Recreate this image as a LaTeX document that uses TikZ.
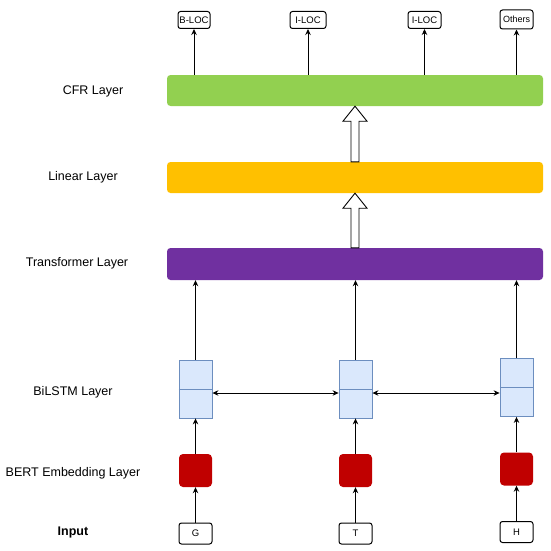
\documentclass[tikz,border=0pt]{standalone}
\usepackage{fontspec}
\setmainfont{Liberation Sans}
\usetikzlibrary{arrows.meta,calc}
\definecolor{cfrgreen}{HTML}{92D050}
\definecolor{linyellow}{HTML}{FFC000}
\definecolor{trpurple}{HTML}{7030A0}
\definecolor{bertred}{HTML}{C00000}
\definecolor{lstmfill}{HTML}{DAE8FC}
\definecolor{lstmdraw}{HTML}{6C8EBF}
\begin{document}
\begin{tikzpicture}[x=1pt,y=-1pt,
  bar/.style={rectangle,rounded corners=3.5pt,minimum width=376pt,inner sep=0pt},
  tag/.style={draw,rectangle,rounded corners=2.5pt,line width=1pt,inner sep=0pt,font=\fontsize{9.5}{11}\selectfont},
  lstm/.style={draw=lstmdraw,fill=lstmfill,rectangle,minimum width=33pt,minimum height=58pt,inner sep=0pt,line width=0.8pt},
  bert/.style={fill=bertred,rectangle,rounded corners=4pt,minimum width=33pt,minimum height=33pt,inner sep=0pt},
  lbl/.style={font=\fontsize{12.5}{15}\selectfont},
  conn/.style={line width=0.9pt,-{Stealth[length=6pt,width=5.5pt]}},
  dconn/.style={line width=0.9pt,{Stealth[length=6pt,width=5.5pt]}-{Stealth[length=6pt,width=5.5pt]}},
  block/.style={draw,fill=white,line width=0.9pt}
]
\useasboundingbox (0,0) rectangle (550,551);

% layer labels
\node[lbl] (lcfr) at (93,91) {CFR Layer};
\node[lbl] (llin) at (83,177) {Linear Layer};
\node[lbl] (ltr) at (77,263) {Transformer Layer};
\node[lbl] (lbi) at (73,392) {BiLSTM Layer};
\node[lbl] (lbe) at (73,473) {BERT Embedding Layer};
\node[lbl,font=\fontsize{12.5}{15}\selectfont\bfseries] (lin) at (73,532) {Input};

% bars
\node[bar,fill=cfrgreen,minimum height=31pt] (cfr) at (355,90.5) {};
\node[bar,fill=linyellow,minimum height=31pt] (lnr) at (355,177.5) {};
\node[bar,fill=trpurple,minimum height=32pt] (trf) at (355,264) {};

% output tags
\node[tag,minimum width=32pt,minimum height=17pt] (o1) at (194,20) {B-LOC};
\node[tag,minimum width=36pt,minimum height=17pt] (o2) at (308,20) {I-LOC};
\node[tag,minimum width=33pt,minimum height=17pt] (o3) at (424.5,20) {I-LOC};
\node[tag,minimum width=33pt,minimum height=19pt,font=\fontsize{9}{11}\selectfont] (o4) at (516.5,19.5) {Others};

\draw[conn] (o1 |- cfr.north) -- (o1.south);
\draw[conn] (o2 |- cfr.north) -- (o2.south);
\draw[conn] (o3 |- cfr.north) -- (o3.south);
\draw[conn] (o4 |- cfr.north) -- (o4.south);

% block arrows
\draw[block] let \p1=(trf.north), \p2=(lnr.south) in
  (\x1-4pt,\y1) -- (\x1-4pt,\y2-15pt) -- (\x1-12pt,\y2-15pt) -- (\x1,\y2)
  -- (\x1+12pt,\y2-15pt) -- (\x1+4pt,\y2-15pt) -- (\x1+4pt,\y1) -- cycle;
\draw[block] let \p1=(lnr.north), \p2=(cfr.south) in
  (\x1-4pt,\y1) -- (\x1-4pt,\y2-15pt) -- (\x1-12pt,\y2-15pt) -- (\x1,\y2)
  -- (\x1+12pt,\y2-15pt) -- (\x1+4pt,\y2-15pt) -- (\x1+4pt,\y1) -- cycle;

% BiLSTM cells
\node[lstm] (b1) at (195.5,389) {};
\node[lstm] (b2) at (355.5,389) {};
\node[lstm] (b3) at (516.5,387.5) {};
\foreach \n in {b1,b2,b3} \draw[lstmdraw,line width=0.8pt] (\n.west) -- (\n.east);

% BERT cells
\node[bert] (e1) at (195.5,470.5) {};
\node[bert] (e2) at (355.5,470.5) {};
\node[bert] (e3) at (516.5,469) {};

% inputs
\node[tag,minimum width=33pt,minimum height=21pt] (i1) at (195.5,533.5) {G};
\node[tag,minimum width=33pt,minimum height=21pt] (i2) at (355.5,533.5) {T};
\node[tag,minimum width=33pt,minimum height=21pt] (i3) at (516.5,532) {H};

\foreach \k in {1,2,3} {
  \draw[conn] (i\k.north) -- (e\k.south);
  \draw[conn] (e\k.north) -- (b\k.south);
  \draw[conn] (b\k.north) -- (b\k.north |- trf.south);
}

\draw[dconn] ($(b1.east)+(0,4)$) -- ($(b2.west)+(0,4)$);
\draw[dconn] ($(b2.east)+(0,4)$) -- (b3.west |- {$(b2.east)+(0,4)$});
\end{tikzpicture}
\end{document}
